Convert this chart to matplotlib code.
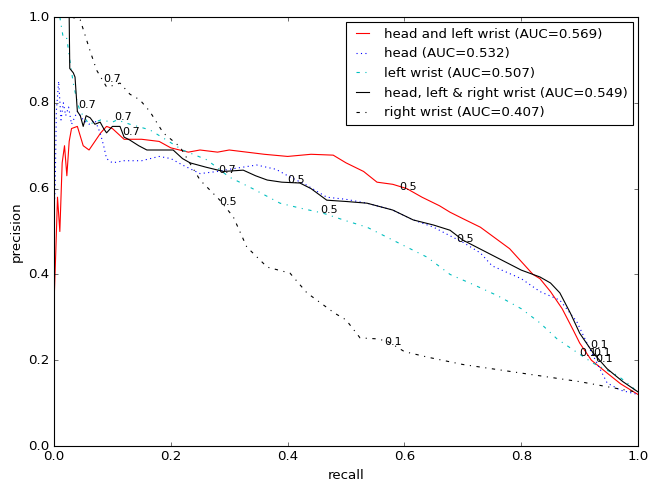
import matplotlib
matplotlib.use('Agg')
import matplotlib.pyplot as plt

plt.style.use('classic')

# head and left wrist
hl_r = [0.0, 0.003, 0.006, 0.01, 0.014, 0.018, 0.022, 0.026, 0.03, 0.04, 0.05, 0.06, 0.07, 0.08,
        0.09, 0.1, 0.12, 0.15, 0.18, 0.2, 0.23, 0.25, 0.28, 0.3, 0.33, 0.36, 0.4, 0.44, 0.478,
        0.5, 0.53, 0.553, 0.58, 0.604, 0.63, 0.66, 0.678, 0.7, 0.73, 0.75, 0.78, 0.8, 0.82,
        0.832, 0.85, 0.87, 0.889, 0.9, 0.92, 0.947, 0.97, 1.0]
hl_p = [0.33, 0.45, 0.58, 0.50, 0.66, 0.70, 0.63, 0.71, 0.74, 0.745, 0.70, 0.69, 0.71, 0.73,
        0.745, 0.74, 0.715, 0.715, 0.71, 0.695, 0.685, 0.69, 0.685, 0.69, 0.685, 0.68, 0.675,
        0.68, 0.678, 0.66, 0.64, 0.615, 0.61, 0.60, 0.58, 0.56, 0.545, 0.53, 0.51, 0.49, 0.46,
        0.43, 0.40, 0.39, 0.36, 0.32, 0.27, 0.24, 0.20, 0.17, 0.145, 0.12]

# head
h_r = [0.0, 0.0, 0.002, 0.004, 0.008, 0.012, 0.016, 0.02, 0.025, 0.03, 0.04, 0.05, 0.06, 0.07,
       0.079, 0.085, 0.09, 0.1, 0.12, 0.15, 0.18, 0.2, 0.22, 0.25, 0.28, 0.3, 0.347, 0.38,
       0.404, 0.43, 0.467, 0.5, 0.536, 0.58, 0.615, 0.65, 0.678, 0.7, 0.73, 0.75, 0.8, 0.832,
       0.866, 0.895, 0.918, 0.947, 0.97, 1.0]
h_p = [1.0, 0.55, 0.6, 0.78, 0.85, 0.76, 0.80, 0.77, 0.79, 0.75, 0.78, 0.76, 0.75, 0.76, 0.73,
       0.70, 0.67, 0.66, 0.665, 0.665, 0.675, 0.67, 0.655, 0.635, 0.64, 0.645, 0.655, 0.645,
       0.627, 0.61, 0.58, 0.575, 0.566, 0.55, 0.527, 0.51, 0.49, 0.475, 0.45, 0.42, 0.39,
       0.36, 0.34, 0.29, 0.224, 0.147, 0.13, 0.12]

# left wrist
lw_r = [0.01, 0.016, 0.022, 0.027, 0.033, 0.04, 0.045, 0.06, 0.08, 0.1, 0.108, 0.13, 0.164,
        0.193, 0.22, 0.262, 0.3, 0.34, 0.387, 0.42, 0.46, 0.5, 0.536, 0.58, 0.639, 0.678,
        0.72, 0.76, 0.8, 0.832, 0.861, 0.889, 0.923, 0.964, 0.99, 1.0]
lw_p = [1.0, 0.95, 0.95, 0.90, 0.846, 0.80, 0.78, 0.75, 0.76, 0.755, 0.76, 0.75, 0.737,
        0.713, 0.69, 0.667, 0.627, 0.60, 0.566, 0.555, 0.543, 0.525, 0.51, 0.48, 0.44, 0.40,
        0.375, 0.35, 0.32, 0.287, 0.25, 0.224, 0.193, 0.165, 0.138, 0.12]

# head, left & right wrist
hlr_r = [0.0, 0.026, 0.027, 0.033, 0.036, 0.04, 0.045, 0.05, 0.055, 0.062, 0.07, 0.079,
         0.085, 0.09, 0.1, 0.113, 0.12, 0.13, 0.145, 0.159, 0.18, 0.204, 0.22, 0.233, 0.26,
         0.29, 0.324, 0.345, 0.365, 0.39, 0.421, 0.44, 0.467, 0.5, 0.536, 0.58, 0.615, 0.65,
         0.678, 0.7, 0.75, 0.8, 0.832, 0.85, 0.866, 0.884, 0.9, 0.923, 0.947, 0.974, 1.0]
hlr_p = [1.0, 1.0, 0.88, 0.87, 0.86, 0.78, 0.77, 0.745, 0.77, 0.765, 0.75, 0.755, 0.74,
         0.73, 0.745, 0.745, 0.72, 0.713, 0.70, 0.69, 0.69, 0.69, 0.67, 0.66, 0.65, 0.64,
         0.643, 0.63, 0.62, 0.615, 0.613, 0.60, 0.573, 0.57, 0.566, 0.55, 0.527, 0.515,
         0.503, 0.48, 0.445, 0.41, 0.394, 0.38, 0.357, 0.31, 0.263, 0.217, 0.18, 0.15, 0.126]

# right wrist
rw_r = [0.03, 0.045, 0.055, 0.062, 0.073, 0.09, 0.1, 0.113, 0.13, 0.147, 0.164, 0.187,
        0.216, 0.25, 0.284, 0.307, 0.33, 0.365, 0.404, 0.433, 0.45, 0.48, 0.5, 0.524, 0.55,
        0.57, 0.6, 0.64, 0.7, 0.8, 0.9, 1.0]
rw_p = [1.0, 0.993, 0.95, 0.92, 0.876, 0.837, 0.84, 0.846, 0.82, 0.807, 0.78, 0.73, 0.697,
        0.62, 0.573, 0.534, 0.464, 0.417, 0.403, 0.357, 0.34, 0.31, 0.294, 0.252, 0.25,
        0.245, 0.22, 0.207, 0.19, 0.17, 0.15, 0.125]

# threshold labels
ann_x = [0.084, 0.041, 0.104, 0.116, 0.281,
         0.283, 0.399, 0.455, 0.591, 0.688,
         0.565, 0.918, 0.899, 0.923, 0.926]
ann_y = [0.848, 0.788, 0.76, 0.725, 0.636,
         0.562, 0.613, 0.543, 0.597, 0.476,
         0.235, 0.228, 0.21, 0.21, 0.196]
ann_txt = ['0.7'] * 5 + ['0.5'] * 5 + ['0.1'] * 5

fig = plt.figure(figsize=(649 / 80, 486 / 80), dpi=80)
ax = fig.add_axes([0.0832, 0.0823, 0.9, 0.8827])

ax.plot(hl_r, hl_p, 'r-', lw=1, label='head and left wrist (AUC=0.569)')
ax.plot(h_r, h_p, 'b:', lw=1, label='head (AUC=0.532)')
ax.plot(lw_r, lw_p, 'c-.', lw=1, label='left wrist (AUC=0.507)')
ax.plot(hlr_r, hlr_p, 'k-', lw=1, label='head, left & right wrist (AUC=0.549)')
ax.plot(rw_r, rw_p, 'k-.', lw=1, label='right wrist (AUC=0.407)')

for x, y, t in zip(ann_x, ann_y, ann_txt):
    ax.text(x, y, t, fontsize=10, ha='left', va='baseline')

ax.set_xlim(0, 1)
ax.set_ylim(0, 1)
ax.set_xlabel('recall')
ax.set_ylabel('precision')
ax.legend(loc='upper right', fontsize=12, fancybox=False, numpoints=2,
          handlelength=1.6, borderaxespad=0.4)

fig.savefig('out.png', dpi=80, facecolor='white')
